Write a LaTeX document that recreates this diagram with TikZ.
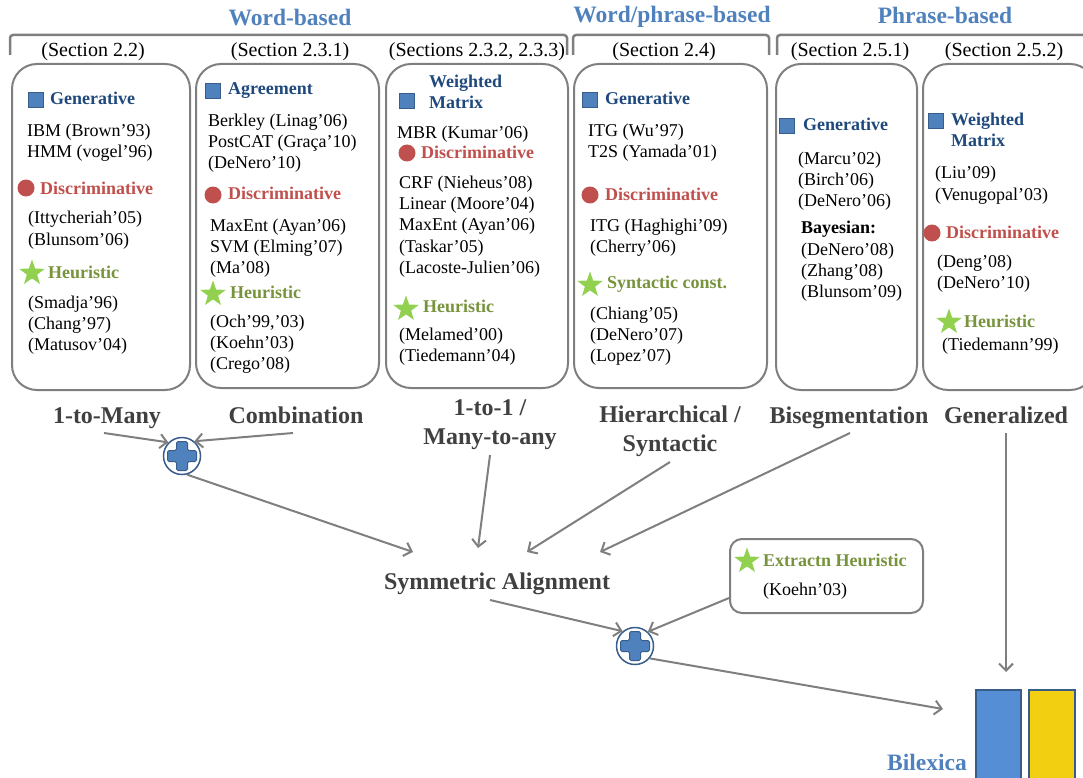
\documentclass[tikz,border=0pt]{standalone}
\usepackage{fontspec}
\setmainfont{Liberation Serif}
\usetikzlibrary{arrows.meta,shapes.geometric}
\definecolor{titleblue}{HTML}{4F81BD}
\definecolor{headblue}{HTML}{1F497D}
\definecolor{sqblue}{HTML}{4F81BD}
\definecolor{sqedge}{HTML}{385D8A}
\definecolor{discred}{HTML}{C0504D}
\definecolor{heurgreen}{HTML}{77933C}
\definecolor{stargreen}{HTML}{92D050}
\definecolor{boxgray}{HTML}{7F7F7F}
\definecolor{lblgray}{HTML}{404040}
\definecolor{barblue}{HTML}{558ED5}
\definecolor{baryellow}{HTML}{F2CF10}
\begin{document}
\begin{tikzpicture}[x=1pt,y=-1pt,
  txt/.style={anchor=west, inner sep=0pt, font=\fontsize{18}{21}\selectfont, align=left},
  body/.style={txt, yshift=-2pt},
  gen/.style={txt, font=\fontsize{18}{21}\selectfont\bfseries, text=headblue},
  disc/.style={txt, font=\fontsize{18}{21}\selectfont\bfseries, text=discred},
  heur/.style={txt, font=\fontsize{18}{21}\selectfont\bfseries, text=heurgreen},
  bay/.style={txt, font=\fontsize{18}{21}\selectfont\bfseries},
  sec/.style={inner sep=0pt, font=\fontsize{20}{24}\selectfont},
  grp/.style={inner sep=0pt, font=\fontsize{23.5}{27}\selectfont\bfseries, text=titleblue},
  lbl/.style={inner sep=0pt, anchor=base, font=\fontsize{24}{28.5}\selectfont\bfseries, text=lblgray, align=center},
  sq/.style={draw=sqedge, fill=sqblue, line width=1pt, minimum size=15pt, inner sep=0pt},
  dot/.style={circle, fill=discred, minimum size=17pt, inner sep=0pt},
  starnode/.style={star, star points=5, star point ratio=2.5, fill=stargreen, minimum size=27pt, inner sep=0pt},
  catbox/.style={draw=boxgray, line width=2pt, rounded corners=25pt, inner sep=0pt},
  arr/.style={draw=boxgray, line width=2pt, -{Straight Barb[length=7pt,width=14pt]}},
  brk/.style={draw=boxgray, line width=2.5pt, rounded corners=3pt},
  plusring/.style={circle, draw=sqedge, line width=1.5pt, fill=white, minimum size=37pt, inner sep=0pt},
  pluspic/.pic={\draw[fill=sqblue, draw=sqedge, line width=1pt, rounded corners=1.5pt]
     (-5.5,-14.5) -- (5.5,-14.5) -- (5.5,-5.5) -- (14.5,-5.5) -- (14.5,5.5) -- (5.5,5.5) -- (5.5,14.5) -- (-5.5,14.5)
     -- (-5.5,5.5) -- (-14.5,5.5) -- (-14.5,-5.5) -- (-5.5,-5.5) -- cycle;},
  bar/.style={draw=sqedge, line width=2pt, inner sep=0pt, anchor=north west, minimum height=110pt}
]
\useasboundingbox (0,0) rectangle (1083,778);
\clip (0,0) rectangle (1083,778);

% group titles and brackets
\node[grp] (gw) at (290,18) {Word-based};
\node[grp] (gwp) at (672,17) {Word/phrase-based};
\node[grp] (gp) at (945,15) {Phrase-based};
\draw[brk] (10,55) -- (10,35) -- (567,35) -- (567,55);
\draw[brk] (573,55) -- (573,35) -- (769,35) -- (769,55);
\draw[brk] (777,55) -- (777,35) -- (1100,35);

% section labels
\node[sec] (sc1) at (93,52) {(Section 2.2)};
\node[sec] (sc2) at (290,52) {(Section 2.3.1)};
\node[sec] (sc3) at (477,52) {(Sections 2.3.2, 2.3.3)};
\node[sec] (sc4) at (664,52) {(Section 2.4)};
\node[sec] (sc5) at (850,52) {(Section 2.5.1)};
\node[sec] (sc6) at (1004,52) {(Section 2.5.2)};

% category boxes
\node[catbox, minimum width=178pt, minimum height=326pt] (b1) at (101,227) {};
\node[catbox, minimum width=183pt, minimum height=324pt] (b2) at (287.5,226) {};
\node[catbox, minimum width=182pt, minimum height=324pt] (b3) at (477,226) {};
\node[catbox, minimum width=193pt, minimum height=324pt] (b4) at (670.5,226) {};
\node[catbox, minimum width=141pt, minimum height=326pt] (b5) at (846.5,227) {};
\node[catbox, minimum width=172pt, minimum height=326pt] (b6) at (1009,227) {};

% box 1
\node[sq] (s1) at (36,100) {};
\node[gen] (g1) at (50,98) {Generative};
\node[body] (e1a) at (27,130) {IBM (Brown’93)};
\node[body] (e1b) at (27,151) {HMM (vogel’96)};
\node[dot] (d1) at (26,188) {};
\node[disc] (k1) at (40,188) {Discriminative};
\node[body] (e1c) at (28,217) {(Ittycheriah’05)};
\node[body] (e1d) at (28,239) {(Blunsom’06)};
\node[starnode] (st1) at (32,273) {};
\node[heur] (u1) at (48,272) {Heuristic};
\node[body] (e1e) at (28,302) {(Smadja’96)};
\node[body] (e1f) at (28,323) {(Chang’97)};
\node[body] (e1g) at (28,344) {(Matusov’04)};

% box 2
\node[sq] (s2) at (213,91) {};
\node[gen] (g2) at (228,90.5) {Agreement};
\node[body] (e2a) at (208,120) {Berkley (Linag’06)};
\node[body] (e2b) at (208,141) {PostCAT (Graça’10)};
\node[body] (e2c) at (208,162) {(DeNero’10)};
\node[dot] (d2) at (213,195) {};
\node[disc] (k2) at (228,193) {Discriminative};
\node[body] (e2d) at (210,225) {MaxEnt (Ayan’06)};
\node[body] (e2e) at (210,246) {SVM (Elming’07)};
\node[body] (e2f) at (210,267) {(Ma’08)};
\node[starnode] (st2) at (213,294) {};
\node[heur] (u2) at (230,292) {Heuristic};
\node[body] (e2g) at (210,321) {(Och’99,’03)};
\node[body] (e2h) at (210,342) {(Koehn’03)};
\node[body] (e2i) at (210,363) {(Crego’08)};

% box 3
\node[sq] (s3) at (407,101) {};
\node[gen] (g3) at (429,91.5) {Weighted\\Matrix};
\node[body] (e3a) at (397,132) {MBR (Kumar’06)};
\node[dot] (d3) at (407,153) {};
\node[disc] (k3) at (421,152) {Discriminative};
\node[body] (e3b) at (399,182) {CRF (Nieheus’08)};
\node[body] (e3c) at (399,203) {Linear (Moore’04)};
\node[body] (e3d) at (399,224) {MaxEnt (Ayan’06)};
\node[body] (e3e) at (399,246) {(Taskar’05)};
\node[body] (e3f) at (399,267) {(Lacoste-Julien’06)};
\node[starnode] (st3) at (406,309) {};
\node[heur] (u3) at (423,306) {Heuristic};
\node[body] (e3g) at (399,334) {(Melamed’00)};
\node[body] (e3h) at (399,355) {(Tiedemann’04)};

% box 4
\node[sq] (s4) at (590,100) {};
\node[gen] (g4) at (605,98) {Generative};
\node[body] (e4a) at (588,130) {ITG (Wu’97)};
\node[body] (e4b) at (588,151) {T2S (Yamada’01)};
\node[dot] (d4) at (590,195) {};
\node[disc] (k4) at (605,194) {Discriminative};
\node[body] (e4c) at (590,225) {ITG (Haghighi’09)};
\node[body] (e4d) at (590,246) {(Cherry’06)};
\node[starnode] (st4) at (590,285) {};
\node[heur] (u4) at (607,284) {Syntactic const.};
\node[body] (e4e) at (590,313) {(Chiang’05)};
\node[body] (e4f) at (590,334) {(DeNero’07)};
\node[body] (e4g) at (590,355) {(Lopez’07)};

% box 5
\node[sq] (s5) at (787,126) {};
\node[gen] (g5) at (803,124) {Generative};
\node[body] (e5a) at (798,158) {(Marcu’02)};
\node[body] (e5b) at (798,179) {(Birch’06)};
\node[body] (e5c) at (798,200) {(DeNero’06)};
\node[bay] (y5) at (801,229) {Bayesian:};
\node[body] (e5d) at (801,249) {(DeNero’08)};
\node[body] (e5e) at (801,270) {(Zhang’08)};
\node[body] (e5f) at (801,291) {(Blunsom’09)};

% box 6
\node[sq] (s6) at (936,121) {};
\node[gen] (g6) at (951,130) {Weighted\\Matrix};
\node[body] (e6a) at (935,172) {(Liu’09)};
\node[body] (e6b) at (935,194) {(Venugopal’03)};
\node[dot] (d6) at (932,233) {};
\node[disc] (k6) at (946,232) {Discriminative};
\node[body] (e6c) at (937,261) {(Deng’08)};
\node[body] (e6d) at (937,282) {(DeNero’10)};
\node[starnode] (st6) at (949,322) {};
\node[heur] (u6) at (964,321) {Heuristic};
\node[body] (e6e) at (942,344) {(Tiedemann’99)};

% labels under boxes (anchored on last baseline)
\node[lbl] (many) at (107,423) {1-to-Many};
\node[lbl] (comb) at (296,423) {Combination};
\node[lbl] (mta) at (490,444) {1-to-1 /\\Many-to-any};
\node[lbl] (hier) at (670,451) {Hierarchical /\\Syntactic};
\node[lbl] (biseg) at (849,423) {Bisegmentation};
\node[lbl] (genz) at (1006,423) {Generalized};

% combination nodes
\node[plusring] (plus1) at (182,456) {};
\pic at (plus1) {pluspic};
\node[lbl] (sym) at (497,589) {Symmetric Alignment};

\node[catbox, rounded corners=12pt, minimum width=193pt, minimum height=74pt] (ext) at (826.5,576) {};
\node[starnode] (st7) at (747,561) {};
\node[heur] (u7) at (763,560) {Extractn Heuristic};
\node[body] (e7a) at (763,589) {(Koehn’03)};

\node[plusring] (plus2) at (635,646) {};
\pic at (plus2) {pluspic};

% bilexica
\node[bar, fill=barblue, minimum width=45pt] (bar1) at (975,689) {};
\node[bar, fill=baryellow, minimum width=46pt] (bar2) at (1028,689) {};
\node[grp] (bil) at (927,762) {Bilexica};

% arrow target points
\coordinate (symA) at (413,552);
\coordinate (symB) at (478,548);
\coordinate (symC) at (527,552);
\coordinate (symD) at (600,552);
\coordinate (genin) at (1006,672);
\coordinate (bilin) at (943,709);

% arrows
\draw[arr] ([xshift=-3pt,yshift=-10pt]many.base) -- (plus1.135);
\draw[arr] ([xshift=-3pt,yshift=-10pt]comb.base) -- (plus1.50);
\draw[arr] (plus1.-75) -- (symA);
\draw[arr] ([yshift=-11pt]mta.base) -- (symB);
\draw[arr] ([yshift=-11pt]hier.base) -- (symC);
\draw[arr] ([xshift=1pt,yshift=-10pt]biseg.base) -- (symD);
\draw[arr] ([yshift=-10pt]genz.base) -- (genin);
\draw[arr] ([xshift=-7pt,yshift=-11pt]sym.base) -- (plus2.130);
\draw[arr] ([yshift=-22pt]ext.west) -- (plus2.48);
\draw[arr] (plus2.-40) -- (bilin);
\end{tikzpicture}
\end{document}
